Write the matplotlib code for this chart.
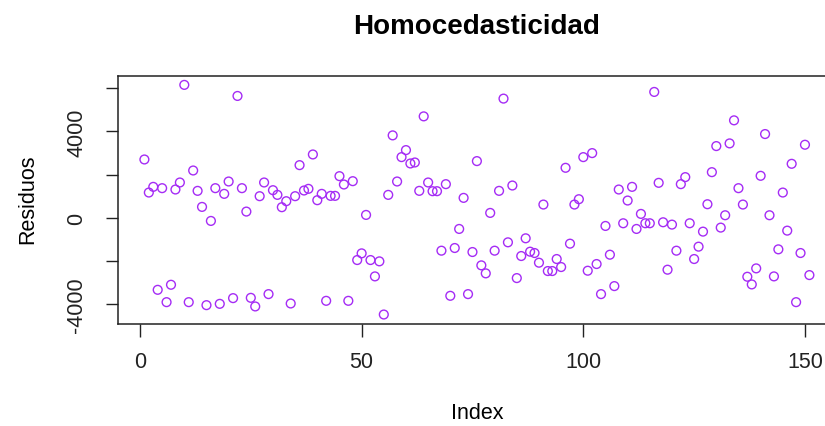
import numpy as np
import matplotlib.pyplot as plt

plt.rcParams['font.family'] = ['Liberation Sans', 'DejaVu Sans']

# residuos (indice 1..151)
residuos = [
    2705, 1175, 1438, -3327, 1377, -3898, -3093, 1315, 1640, 6157,
    -3898, 2195, 1253, 510, -4037, -139, 1377, -3976, 1114, 1686,
    -3712, 5645, 1377, 294, -3698, -4097, 1006, 1640, -3526, 1284,
    1067, 496, 774, -3960, 1006, 2443, 1269, 1346, 2937, 820,
    1114, -3836, 1021, 1021, 1933, 1547, -3836, 1701, -1949, -1640,
    139, -1949, -2706, -2010, -4470, 1067, 3820, 1686, 2814, 3139,
    2520, 2566, 1253, 4700, 1640, 1237, 1237, -1516, 1563, -3604,
    -1392, -510, 928, -3526, -1578, 2630, -2195, -2566, 232, -1516,
    1253, 5522, -1129, 1500, -2784, -1763, -943, -1562, -1624, -2072,
    619, -2458, -2458, -1902, -2273, 2320, -1191, 619, 866, 2814,
    -2443, 3000, -2134, -3526, -371, -1702, -3155, 1315, -247, 805,
    1438, -510, 186, -247, -247, 5831, 1624, -201, -2396, -309,
    -1516, 1563, 1888, -247, -1902, -1330, -634, 634, 2118, 3325,
    -448, 124, 3449, 4516, 1377, 619, -2722, -3078, -2335, 1949,
    3882, 124, -2706, -1454, 1175, -588, 2505, -3898, -1624, 3387,
    -2645,
]
x_ticks = [0, 50, 100, 150]
y_ticks = [-4000, -2000, 0, 2000, 4000, 6000]
y_tick_labels = ["-4000", "", "0", "", "4000", ""]

index = np.arange(1, len(residuos) + 1)
W, H = 825, 427

fig = plt.figure(figsize=(W / 100, H / 100), dpi=100)
# el area del grafico sigue mas alla del borde derecho (imagen recortada)
ax = fig.add_axes([117.8 / W, 1 - 324.7 / H, (836 - 117.8) / W, (324.7 - 76.7) / H])

ax.scatter(index, residuos, s=40, facecolors="none", edgecolors="#A52CF5", linewidths=1.0)

n = len(residuos)
ax.set_xlim(1 - 0.04 * (n - 1), n + 0.04 * (n - 1))
lo, hi = min(residuos), max(residuos)
ax.set_ylim(lo - 0.04 * (hi - lo), hi + 0.04 * (hi - lo))

ax.set_xticks(x_ticks)
ax.set_xticklabels([str(t) for t in x_ticks])
ax.set_yticks(y_ticks)
ax.set_yticklabels(y_tick_labels, rotation=90, va="center")

ax.tick_params(axis="both", direction="out", length=9, width=1.0, labelsize=15.5, colors="#222222")
ax.tick_params(axis="x", pad=11)
ax.tick_params(axis="y", pad=13)
for sp in ax.spines.values():
    sp.set_linewidth(1.1)
    sp.set_color("#222222")

fig.text(477 / W, 1 - 27 / H, "Homocedasticidad", ha="center", va="center",
         fontsize=20, fontweight="bold")
fig.text(477 / W, 1 - 414 / H, "Index", ha="center", va="center", fontsize=15.5)
fig.text(28 / W, 1 - 199 / H, "Residuos", ha="center", va="center", fontsize=15.5, rotation=90)

fig.savefig("out.png", dpi=100)
